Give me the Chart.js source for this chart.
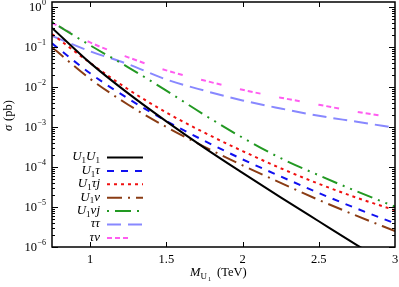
<!DOCTYPE html>
<html>
<head>
<meta charset="utf-8">
<script src="https://cdn.jsdelivr.net/npm/chart.js@4/dist/chart.umd.min.js"></script>
<style>
  html, body { margin: 0; padding: 0; background: #fff; }
  #wrap { width: 399px; height: 287px; }
</style>
</head>
<body>
<div id="wrap"><canvas id="c"></canvas></div>
<script>
// M_U1 in TeV
var masses = [0.75, 1.0, 1.25, 1.5, 1.75, 2.0, 2.25, 2.5, 2.75, 3.0];

// cross sections in pb
var sigU1U1 = [0.30, 0.040, 6.9e-3, 1.38e-3, 3.0e-4, 7.1e-5, 1.74e-5, 4.4e-6, 1.12e-6, 2.95e-7];
var sigU1tau = [0.123, 0.022, 5.1e-3, 1.41e-3, 4.5e-4, 1.55e-4, 5.8e-5, 2.24e-5, 9.1e-6, 3.9e-6];
var sigU1tauj = [0.21, 0.040, 8.7e-3, 2.3e-3, 7.2e-4, 2.5e-4, 9.3e-5, 3.8e-5, 1.7e-5, 8.3e-6];
var sigU1nu = [0.098, 0.016, 3.6e-3, 1.0e-3, 3.2e-4, 1.1e-4, 4.0e-5, 1.5e-5, 6.0e-6, 2.5e-6];
var sigU1nuj = [0.42, 0.110, 0.031, 8.1e-3, 2.0e-3, 5.4e-4, 1.66e-4, 6.2e-5, 2.45e-5, 1.02e-5];
var sigTauTau = [0.19, 0.078, 0.037, 0.0154, 8.1e-3, 4.6e-3, 2.9e-3, 1.9e-3, 1.35e-3, 9.5e-4];
var sigTauNu = [0.40, 0.13, 0.055, 0.026, 0.0145, 8.5e-3, 5.4e-3, 3.6e-3, 2.4e-3, 1.7e-3];

var xTicks = [1, 1.5, 2, 2.5, 3];
var yDecades = [-6, -5, -4, -3, -2, -1, 0];

var SERIF = '"Liberation Serif", "DejaVu Serif", serif';

var series = [
  { label: 'U_1U_1', data: sigU1U1, color: '#000000', dash: [] },
  { label: 'U_1τ', data: sigU1tau, color: '#1010f0', dash: [7, 7] },
  { label: 'U_1τj', data: sigU1tauj, color: '#f01010', dash: [3, 4] },
  { label: 'U_1ν', data: sigU1nu, color: '#8a3c14', dash: [15, 6, 2, 6] },
  { label: 'U_1νj', data: sigU1nuj, color: '#229922', dash: [2, 6, 16, 6, 2, 6] },
  { label: 'ττ', data: sigTauTau, color: '#8888ff', dash: [14, 7] },
  { label: 'τν', data: sigTauNu, color: '#ff5cf0', dash: [5, 3, 5, 3, 5, 19] }
];

// draws text where "_x" means subscript x
function drawRich(ctx, str, x, y, size, italic, align) {
  var parts = str.split(/(_\w)/).filter(function (s) { return s.length; });
  var big = (italic ? 'italic ' : '') + size + 'px ' + SERIF;
  var small = Math.round(size * 0.7) + 'px ' + SERIF;
  var w = 0;
  parts.forEach(function (p) {
    ctx.font = p[0] === '_' ? small : big;
    w += ctx.measureText(p[0] === '_' ? p.slice(1) : p).width;
  });
  var cx = align === 'right' ? x - w : (align === 'center' ? x - w / 2 : x);
  ctx.textBaseline = 'middle';
  ctx.textAlign = 'left';
  parts.forEach(function (p) {
    if (p[0] === '_') {
      ctx.font = small;
      ctx.fillText(p.slice(1), cx, y + size * 0.3);
      cx += ctx.measureText(p.slice(1)).width;
    } else {
      ctx.font = big;
      ctx.fillText(p, cx, y);
      cx += ctx.measureText(p).width;
    }
  });
}

var framePlugin = {
  id: 'frame',
  afterDraw: function (chart) {
    var ctx = chart.ctx;
    var a = chart.chartArea;
    var xs = chart.scales.x, ys = chart.scales.y;
    ctx.save();
    ctx.strokeStyle = '#000';
    ctx.fillStyle = '#000';
    ctx.lineWidth = 1.5;
    ctx.setLineDash([]);
    ctx.strokeRect(a.left, a.top, a.right - a.left, a.bottom - a.top);

    // y ticks, major and minor, inside on both sides
    ctx.lineWidth = 1;
    yDecades.forEach(function (d) {
      for (var k = 1; k <= 9; k++) {
        var v = k * Math.pow(10, d);
        if (v < ys.min || v > ys.max) continue;
        var py = Math.round(ys.getPixelForValue(v)) + 0.5;
        var len = k === 1 ? 6 : 3;
        ctx.beginPath();
        ctx.moveTo(a.left, py); ctx.lineTo(a.left + len, py);
        ctx.moveTo(a.right, py); ctx.lineTo(a.right - len, py);
        ctx.stroke();
      }
      // tick label 10^d
      var ly = ys.getPixelForValue(Math.pow(10, d));
      var ex = String(d).replace('-', '−');
      ctx.font = '8px ' + SERIF;
      var ew = ctx.measureText(ex).width;
      ctx.textBaseline = 'middle';
      ctx.textAlign = 'right';
      ctx.fillText(ex, 46, ly - 4);
      ctx.font = '12.5px ' + SERIF;
      ctx.fillText('10', 46 - ew - 0.5, ly + 1);
    });

    // x ticks top and bottom
    xTicks.forEach(function (v) {
      if (v >= xs.max) return;
      var px = Math.round(xs.getPixelForValue(v)) + 0.5;
      ctx.beginPath();
      ctx.moveTo(px, a.bottom); ctx.lineTo(px, a.bottom - 5);
      ctx.moveTo(px, a.top); ctx.lineTo(px, a.top + 5);
      ctx.stroke();
    });

    // axis titles
    drawRich(ctx, 'M_U', 190, 273, 12.5, true, 'left');
    ctx.font = '6px ' + SERIF;
    ctx.fillText('1', 208, 279);
    ctx.font = '12.5px ' + SERIF;
    ctx.fillText('(TeV)', 217, 273);

    ctx.save();
    ctx.translate(9, 114);
    ctx.rotate(-Math.PI / 2);
    ctx.font = 'italic 12.5px ' + SERIF;
    ctx.textAlign = 'left';
    ctx.fillText('σ', -17, 0);
    ctx.font = '12.5px ' + SERIF;
    ctx.fillText('(pb)', -7, 0);
    ctx.restore();

    // legend: text right-aligned, line sample to the right
    series.forEach(function (s, i) {
      var ly = 157 + i * 13.4;
      ctx.fillStyle = '#000';
      drawRich(ctx, s.label, 100, ly, 13, true, 'right');
      ctx.strokeStyle = s.color;
      ctx.lineWidth = 2;
      ctx.setLineDash(s.dash);
      ctx.beginPath();
      ctx.moveTo(107, ly + 0.5);
      ctx.lineTo(143, ly + 0.5);
      ctx.stroke();
    });
    ctx.restore();
  }
};

var datasets = series.map(function (s) {
  return {
    label: s.label,
    data: masses.map(function (m, i) { return { x: m, y: s.data[i] }; }),
    borderColor: s.color,
    backgroundColor: s.color,
    borderWidth: 2,
    borderDash: s.dash,
    pointRadius: 0,
    cubicInterpolationMode: 'monotone',
    fill: false
  };
});

new Chart(document.getElementById('c'), {
  type: 'line',
  data: { datasets: datasets },
  options: {
    responsive: true,
    maintainAspectRatio: false,
    animation: false,
    layout: { padding: { left: 0, right: 4, top: 2, bottom: 0 } },
    plugins: { legend: { display: false }, tooltip: { enabled: false } },
    scales: {
      x: {
        type: 'linear',
        min: 0.75,
        max: 3,
        grid: { display: false, drawTicks: false },
        border: { display: false },
        afterBuildTicks: function (scale) {
          scale.ticks = xTicks.map(function (v) { return { value: v }; });
        },
        afterFit: function (scale) {
          scale.height = 40;
          scale.paddingLeft = 0;
          scale.paddingRight = 0;
        },
        ticks: {
          color: '#000',
          padding: 5,
          maxRotation: 0,
          font: { family: SERIF, size: 12.5 },
          callback: function (v) { return String(v); }
        }
      },
      y: {
        type: 'logarithmic',
        min: 1e-6,
        max: 1.33,
        grid: { display: false, drawTicks: false },
        border: { display: false },
        afterBuildTicks: function (scale) {
          scale.ticks = yDecades.map(function (d) { return { value: Math.pow(10, d) }; });
        },
        afterFit: function (scale) {
          scale.width = 52;
          scale.paddingTop = 0;
          scale.paddingBottom = 0;
        },
        ticks: { display: false }
      }
    }
  },
  plugins: [framePlugin]
});
</script>
</body>
</html>
